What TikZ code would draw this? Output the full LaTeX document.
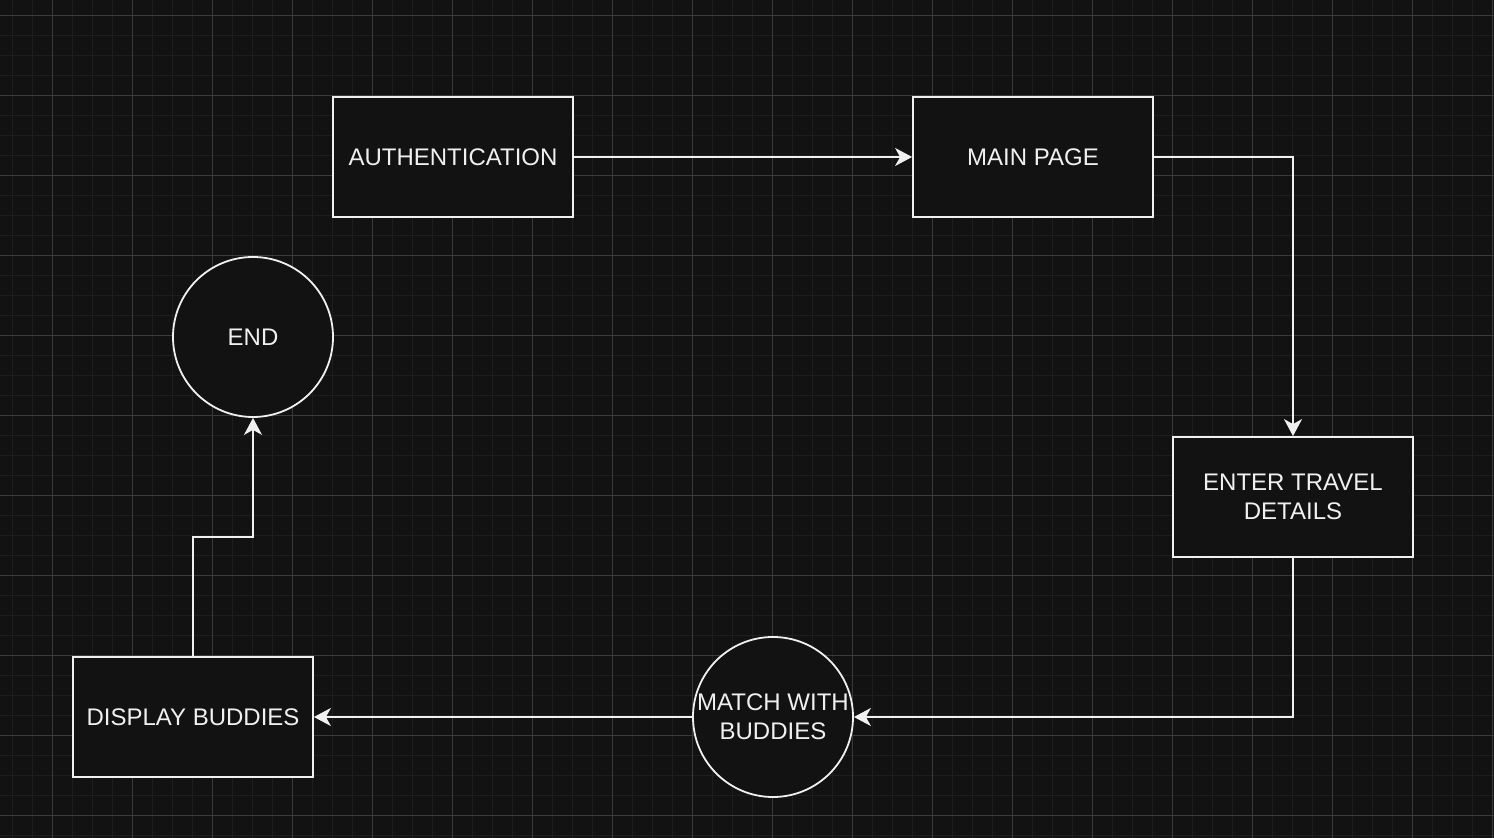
\documentclass[tikz,border=0pt]{standalone}
\usepackage{fontspec}
\setmainfont{Liberation Sans}
\usetikzlibrary{arrows.meta}
\definecolor{CanvasDark}{HTML}{121212}
\definecolor{GridMinor}{HTML}{1E1E1E}
\definecolor{GridMajor}{HTML}{3A3A3A}
\definecolor{InkLight}{HTML}{F0F0F0}

\tikzset{
  stepbox/.style={draw=InkLight, fill=CanvasDark, line width=0.9pt, minimum width=120pt, minimum height=60pt,
    inner sep=0pt, align=center, text=InkLight, font=\fontsize{12}{14.5}\selectfont},
  stepcircle/.style={stepbox, circle, minimum size=80pt},
  flow/.style={InkLight, line width=0.9pt, -{Stealth[length=8.5pt,width=9pt,inset=2.5pt]}}
}

\begin{document}
\begin{tikzpicture}[x=0.5pt,y=-0.5pt]
    \useasboundingbox (0,0) rectangle (1494,838);
    \fill[CanvasDark] (0,0) rectangle (1494,838);
    %%Grid
    \foreach \gx in {12,32,...,1492} \draw[GridMinor, line width=0.5pt] (\gx,0) -- (\gx,838);
    \foreach \gy in {16,36,...,836} \draw[GridMinor, line width=0.5pt] (0,\gy) -- (1494,\gy);
    \foreach \gx in {52,132,...,1492} \draw[GridMajor, line width=0.5pt] (\gx,0) -- (\gx,838);
    \foreach \gy in {16,96,...,836} \draw[GridMajor, line width=0.5pt] (0,\gy) -- (1494,\gy);
    %%Steps
    \node[stepbox] (auth) at (453,157) {AUTHENTICATION};
    \node[stepbox] (mainpage) at (1033,157) {MAIN PAGE};
    \node[stepbox] (travel) at (1293,497) {ENTER TRAVEL\\DETAILS};
    \node[stepcircle] (match) at (773,717) {MATCH WITH\\BUDDIES};
    \node[stepbox] (display) at (193,717) {DISPLAY BUDDIES};
    \node[stepcircle] (finish) at (253,337) {END};
    \coordinate (bend) at (193,537);
    %%Flow
    \draw[flow] (auth) -- (mainpage);
    \draw[flow] (mainpage.east) -| (travel.north);
    \draw[flow] (travel.south) |- (match.east);
    \draw[flow] (match) -- (display);
    \draw[flow] (display.north) -- (bend) -| (finish.south);
\end{tikzpicture}
\end{document}
